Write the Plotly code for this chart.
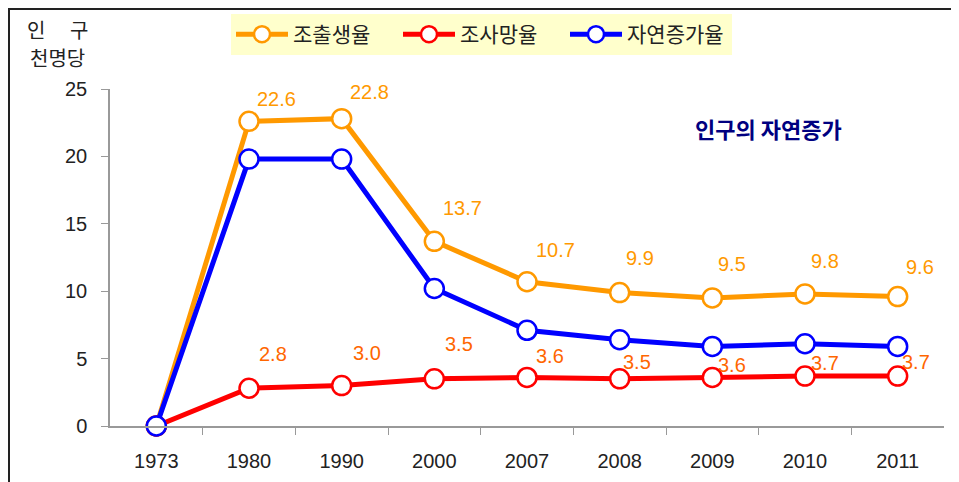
import plotly.graph_objects as go

# data
years = ["1973", "1980", "1990", "2000", "2007", "2008", "2009", "2010", "2011"]
birth_rate = [0, 22.6, 22.8, 13.7, 10.7, 9.9, 9.5, 9.8, 9.6]
death_rate = [0, 2.8, 3.0, 3.5, 3.6, 3.5, 3.6, 3.7, 3.7]
natural_increase = [0, 19.8, 19.8, 10.2, 7.1, 6.4, 5.9, 6.1, 5.9]

# label offsets in px from the marker centre (first point has no label)
birth_label_dx = [0, 27, 28, 28, 28, 20, 20, 20, 22]
birth_label_dy = [0, -22, -27, -33, -32, -35, -34, -33, -30]
death_label_dx = [0, 24, 25, 25, 23, 17, 20, 20, 18]
death_label_dy = [0, -34, -33, -35, -21, -17, -12, -13, -14]

FONT = "Liberation Sans, Noto Sans CJK KR, sans-serif"
KFONT = "Noto Sans CJK KR, sans-serif"

# the page puts the plot 8px in from the corner, so work in shifted pixels
L, T, PW, PH = 102, 81, 834, 337


def px(x):
    return (x - 8 - L) / PW


def py(y):
    return (T + PH - (y - 8)) / PH


fig = go.Figure()

series = [
    ("조출생율", birth_rate, "#FF9900"),
    ("조사망율", death_rate, "#FF0000"),
    ("자연증가율", natural_increase, "#0000FF"),
]
for name, vals, color in series:
    fig.add_trace(go.Scatter(
        x=list(range(len(years))), y=vals, name=name, mode="lines+markers",
        line=dict(color=color, width=5),
        marker=dict(size=19, color="white", line=dict(color=color, width=2.5)),
        cliponaxis=False,
    ))

annotations = []
for i in range(1, len(years)):
    annotations.append(dict(
        x=i, y=birth_rate[i], text=f"{birth_rate[i]:.1f}",
        showarrow=False, xshift=birth_label_dx[i], yshift=-birth_label_dy[i],
        xanchor="center", yanchor="middle",
        font=dict(color="#FF9900", size=20, family=FONT)))
    annotations.append(dict(
        x=i, y=death_rate[i], text=f"{death_rate[i]:.1f}",
        showarrow=False, xshift=death_label_dx[i], yshift=-death_label_dy[i],
        xanchor="center", yanchor="middle",
        font=dict(color="#FF6600", size=20, family=FONT)))

# y-axis caption, "인 구" spread over the width of "천명당"
for txt, x, y in [("인", 36, 29), ("구", 79, 29), ("천명당", 57, 57)]:
    annotations.append(dict(
        xref="paper", yref="paper", x=px(x), y=py(y), text=txt,
        showarrow=False, xanchor="center", yanchor="middle",
        font=dict(size=20, color="#222", family=KFONT)))
annotations.append(dict(
    xref="paper", yref="paper", x=px(768), y=py(128),
    text="<b>인구의 자연증가</b>", showarrow=False,
    xanchor="center", yanchor="middle",
    font=dict(size=22, color="#000080", family=KFONT)))

fig.update_layout(
    width=951, height=474,
    margin=dict(l=L, r=951 - L - PW, t=T, b=474 - T - PH, autoexpand=False),
    paper_bgcolor="white", plot_bgcolor="white",
    font=dict(family=FONT, size=20, color="#222"),
    showlegend=True,
    legend=dict(
        orientation="h", x=px(231), y=py(14),
        xanchor="left", yanchor="top", bgcolor="#FFFFCC",
        font=dict(size=21, color="#222", family=KFONT), itemwidth=52,
        entrywidth=100, tracegroupgap=0,
    ),
    annotations=annotations,
    shapes=[dict(
        type="rect", xref="paper", yref="paper",
        x0=px(9), x1=px(955), y0=py(495), y1=py(9),
        line=dict(color="#222", width=2), fillcolor="rgba(0,0,0,0)",
    )],
)

fig.update_xaxes(
    range=[-0.5, 8.5], tickmode="array", tickvals=list(range(len(years))),
    ticktext=years, showline=True, linecolor="#999", automargin=False,
    linewidth=1.5, ticks="", showgrid=False, zeroline=False,
    tickfont=dict(size=20, color="#222"), ticklabelstandoff=16,
    minor=dict(tickmode="array", tickvals=[i + 0.5 for i in range(len(years) - 1)],
               ticks="outside", ticklen=7, tickcolor="#999"),
)
fig.update_yaxes(
    range=[0, 25], dtick=5, showline=True, linecolor="#999", linewidth=1.5,
    ticks="outside", ticklen=7, tickcolor="#999", showgrid=False, automargin=False,
    zeroline=False, tickfont=dict(size=20, color="#222"), ticklabelstandoff=10,
)

fig.write_html("out.html")
